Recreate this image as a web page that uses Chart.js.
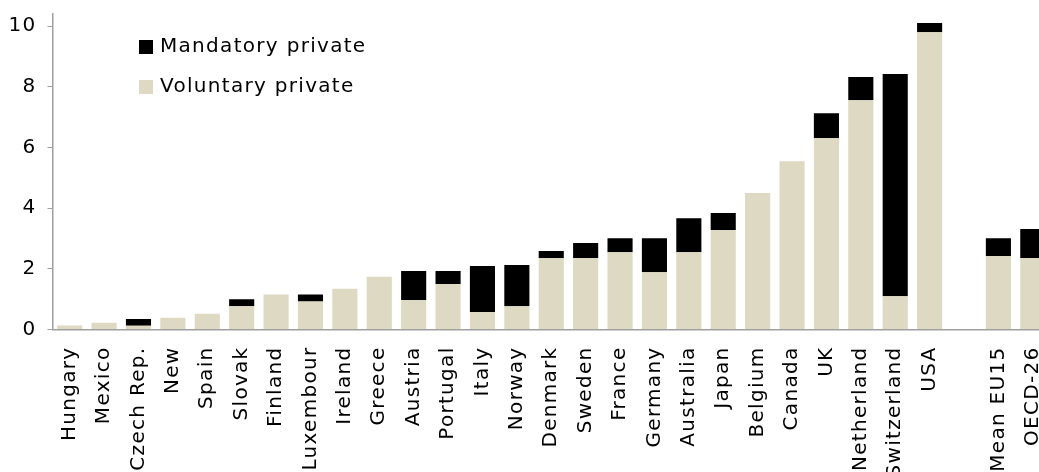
<!DOCTYPE html>
<html>
<head>
<meta charset="utf-8">
<script src="https://cdn.jsdelivr.net/npm/chart.js@4"></script>
<style>
    html, body { margin: 0; padding: 0; background: #fff; overflow: hidden; }
    #pension-chart { position: absolute; left: 0; top: 0; }
</style>
</head>
<body>
<canvas id="pension-chart" width="1050" height="520"></canvas>
<script>
// Categorias (a posição vazia separa os países das médias)
const countries = ['Hungary', 'Mexico', 'Czech Rep.', 'New', 'Spain', 'Slovak', 'Finland', 'Luxembour',
    'Ireland', 'Greece', 'Austria', 'Portugal', 'Italy', 'Norway', 'Denmark', 'Sweden', 'France',
    'Germany', 'Australia', 'Japan', 'Belgium', 'Canada', 'UK', 'Netherland', 'Switzerland', 'USA',
    '', 'Mean EU15', 'OECD-26'];

const voluntaryPrivate = [0.13, 0.22, 0.12, 0.39, 0.52, 0.77, 1.15, 0.92, 1.34, 1.74, 0.97, 1.50, 0.58,
    0.77, 2.36, 2.36, 2.55, 1.89, 2.55, 3.28, 4.50, 5.55, 6.31, 7.56, 1.10, 9.80, null, 2.42, 2.36];

const mandatoryPrivate = [0, 0, 0.23, 0, 0, 0.23, 0, 0.23, 0, 0, 0.96, 0.43, 1.51, 1.36, 0.23, 0.49,
    0.46, 1.12, 1.12, 0.56, 0, 0, 0.82, 0.76, 7.32, 0.30, null, 0.59, 0.95];

const yTicks = [0, 2, 4, 6, 8, 10];

document.addEventListener('DOMContentLoaded', () => {
    const ctx = document.getElementById('pension-chart').getContext('2d');
    const FONT = 'Verdana, "DejaVu Sans", sans-serif';
    const AXIS_COLOR = '#a0a0a0';

    // O texto do original tem um pequeno espaçamento entre letras
    const spacingPlugin = {
        id: 'spacing',
        beforeUpdate: (chart) => { chart.ctx.letterSpacing = '1.3px'; },
        beforeDraw: (chart) => { chart.ctx.letterSpacing = '1.3px'; }
    };

    // Legenda desenhada dentro da área do gráfico, Mandatory primeiro
    const legendPlugin = {
        id: 'insideLegend',
        afterDraw: (chart) => {
            const c = chart.ctx;
            const items = [...chart.data.datasets].reverse();
            c.save();
            c.letterSpacing = '1.3px';
            c.font = `20px ${FONT}`;
            c.textBaseline = 'middle';
            c.textAlign = 'left';
            items.forEach((ds, i) => {
                const y = 47 + i * 40;
                c.fillStyle = ds.backgroundColor;
                c.fillRect(139, y - 7, 14, 14);
                c.fillStyle = '#000';
                c.fillText(ds.label, 160, y);
            });
            c.restore();
        }
    };

    new Chart(ctx, {
        type: 'bar',
        data: {
            labels: countries,
            datasets: [{
                label: 'Voluntary private',
                data: voluntaryPrivate,
                backgroundColor: '#ddd9c3',
                barPercentage: 0.73,
                categoryPercentage: 1
            }, {
                label: 'Mandatory private',
                data: mandatoryPrivate,
                backgroundColor: '#000000',
                barPercentage: 0.73,
                categoryPercentage: 1
            }]
        },
        options: {
            responsive: false,
            animation: false,
            layout: { padding: { top: 14, left: 0, right: 0, bottom: 0 } },
            plugins: {
                legend: { display: false },
                tooltip: { enabled: false }
            },
            scales: {
                x: {
                    stacked: true,
                    grid: { display: false, drawTicks: false },
                    border: { display: true, color: AXIS_COLOR, width: 1.5 },
                    ticks: {
                        autoSkip: false,
                        maxRotation: 90,
                        minRotation: 90,
                        padding: 17,
                        color: '#000',
                        font: { family: FONT, size: 20 }
                    },
                    afterFit: (scale) => {
                        scale.height = 190.5;
                        scale.paddingLeft = 0;
                        scale.paddingRight = 0;
                    }
                },
                y: {
                    stacked: true,
                    min: 0,
                    max: 10.4,
                    afterBuildTicks: (scale) => {
                        scale.ticks = yTicks.map(v => ({ value: v }));
                    },
                    grid: {
                        drawOnChartArea: false,
                        drawTicks: true,
                        tickLength: 5,
                        color: AXIS_COLOR
                    },
                    border: { display: true, color: AXIS_COLOR, width: 1.5 },
                    ticks: {
                        padding: 11,
                        color: '#000',
                        font: { family: FONT, size: 20 }
                    },
                    afterFit: (scale) => {
                        scale.width = 52.5;
                        scale.paddingTop = 0;
                        scale.paddingBottom = 0;
                    }
                }
            }
        },
        plugins: [spacingPlugin, legendPlugin]
    });
});
</script>
</body>
</html>
